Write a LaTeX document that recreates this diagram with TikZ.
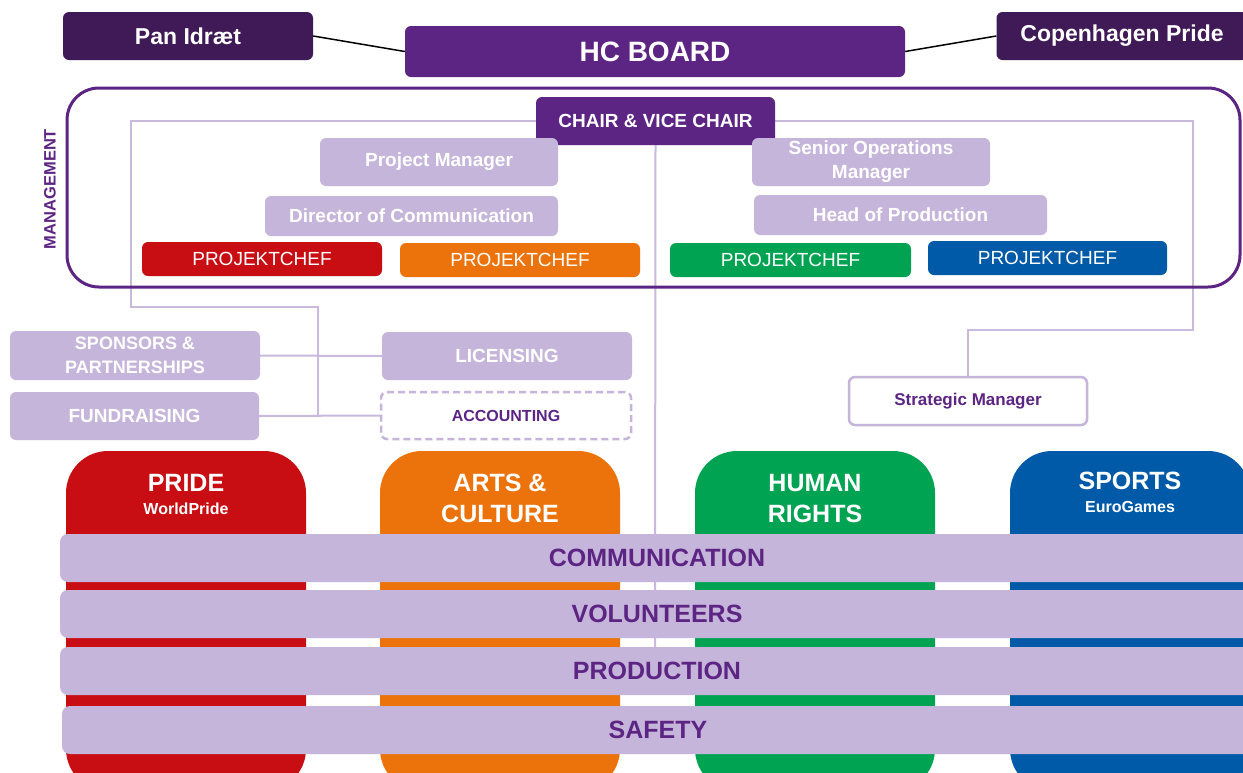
\documentclass[tikz,border=0pt]{standalone}
\usepackage{fontspec}
\setmainfont{Liberation Sans}
\usetikzlibrary{backgrounds}
\definecolor{dpurple}{HTML}{3F1A56}
\definecolor{mpurple}{HTML}{5C2483}
\definecolor{lpurple}{HTML}{C6B5DA}
\definecolor{cpurple}{HTML}{C9BADD}
\definecolor{cred}{HTML}{C80E13}
\definecolor{corange}{HTML}{EC730B}
\definecolor{cgreen}{HTML}{00A352}
\definecolor{cblue}{HTML}{005AA8}
\newcommand\fsz[2]{\fontsize{#1}{#2}\selectfont}
\begin{document}
\begin{tikzpicture}[x=1pt,y=-1pt,
  box/.style={rounded corners=6pt, inner sep=0pt, align=center, text=white},
  lbox/.style={box, fill=lpurple, font=\bfseries\fsz{19}{24}},
  pcbox/.style={box, minimum height=34pt, font=\fsz{19}{22}},
  colbox/.style={rounded corners=42pt, inner sep=0pt, minimum width=240pt, minimum height=340pt},
  coltitle/.style={text=white, align=center, inner sep=0pt, font=\bfseries\fsz{25}{31}},
  colsub/.style={text=white, inner sep=0pt, font=\bfseries\fsz{16}{19}},
  band/.style={fill=lpurple, rounded corners=8pt, inner sep=0pt, minimum height=48pt, text=mpurple, font=\bfseries\fsz{25}{30}},
  conn/.style={draw=cpurple, line width=2pt},
  blk/.style={draw=black, line width=1.5pt}]
\useasboundingbox (0,0) rectangle (1243,772);
\clip (0,0) rectangle (1243,772);

% top row
\node[box, fill=dpurple, minimum width=250pt, minimum height=48pt, font=\bfseries\fsz{23}{27}] (pan) at (188,36) {Pan Idræt};
\node[box, fill=mpurple, minimum width=500pt, minimum height=51pt, font=\bfseries\fsz{28}{32}] (hc) at (655,51.5) {HC BOARD};
\node[box, fill=dpurple, minimum width=251pt, minimum height=48pt, font=\bfseries\fsz{23}{27}] (cop) at (1122,36) {Copenhagen Pride};
\draw[blk] (pan.east) -- (hc.west);
\draw[blk] (cop.west) -- (hc.east);

% management frame
\draw[draw=mpurple, line width=3pt, rounded corners=32pt] (67,88) rectangle (1240,287);
\node[rotate=90, text=mpurple, inner sep=0pt, font=\bfseries\fsz{16.5}{19}] (mgmt) at (50,189) {MANAGEMENT};

\node[box, fill=mpurple, minimum width=239pt, minimum height=48pt, font=\bfseries\fsz{19}{24}] (chair) at (655.5,121) {CHAIR \& VICE CHAIR};
\node[lbox, minimum width=238pt, minimum height=48pt] (pm) at (439,162) {Project Manager};
\node[lbox, minimum width=293pt, minimum height=40pt] (doc) at (411.5,216) {Director of Communication};
\node[lbox, minimum width=238pt, minimum height=48pt] (som) at (871,162) {Senior Operations\\Manager};
\node[lbox, minimum width=293pt, minimum height=40pt] (hop) at (900.5,215) {Head of Production};

\node[pcbox, fill=cred, minimum width=240pt] (pc1) at (262,259) {PROJEKTCHEF};
\node[pcbox, fill=corange, minimum width=240pt] (pc2) at (520,260) {PROJEKTCHEF};
\node[pcbox, fill=cgreen, minimum width=241pt] (pc3) at (790.5,260) {PROJEKTCHEF};
\node[pcbox, fill=cblue, minimum width=239pt] (pc4) at (1047.5,258) {PROJEKTCHEF};

% support boxes
\node[lbox, minimum width=250pt, minimum height=49pt, font=\bfseries\fsz{18}{24}] (spons) at (135,355.5) {SPONSORS \&\\PARTNERSHIPS};
\node[lbox, minimum width=249pt, minimum height=48pt] (fund) at (134.5,416) {FUNDRAISING};
\node[lbox, minimum width=250pt, minimum height=48pt] (lic) at (507,356) {LICENSING};
\node[box, fill=white, draw=lpurple, line width=2.5pt, dash pattern=on 7pt off 4pt, minimum width=250pt, minimum height=47pt, text=mpurple, font=\bfseries\fsz{16}{20}] (acc) at (506,415.5) {ACCOUNTING};
\node[box, fill=white, draw=lpurple, line width=2.5pt, minimum width=238pt, minimum height=48pt, text=mpurple, font=\bfseries\fsz{17}{20}] (strat) at (968,401) {Strategic Manager};

% columns
\node[colbox, fill=cred] (pride) at (186,621) {};
\node[colbox, fill=corange] (arts) at (500,621) {};
\node[colbox, fill=cgreen] (human) at (815,621) {};
\node[colbox, fill=cblue] (sports) at (1130,621) {};
\node[coltitle] (pridet) at (186,483) {PRIDE};
\node[colsub] (prides) at (186,509) {WorldPride};
\node[coltitle] (artst) at (500,498.5) {ARTS \&\\CULTURE};
\node[coltitle] (humant) at (815,498.5) {HUMAN\\RIGHTS};
\node[coltitle] (sportst) at (1130,481) {SPORTS};
\node[colsub] (sportss) at (1130,507) {EuroGames};

% bands
\node[band, minimum width=1194pt] (comm) at (657,558) {COMMUNICATION};
\node[band, minimum width=1194pt] (vol) at (657,614) {VOLUNTEERS};
\node[band, minimum width=1194pt] (prod) at (657,671) {PRODUCTION};
\node[band, minimum width=1192pt] (safe) at (658,730) {SAFETY};

% connectors
\coordinate (lj) at (318,415);
\coordinate (cbot) at (655,650);
\begin{scope}[on background layer]
\fill[white] (0,0) rectangle (1243,772);
\draw[conn] (chair.west) -- (131,121) -- (131,307) -- (318,307) -- (lj);
\draw[conn] (chair.east) -- (1193,121) -- (1193,330) -- (968,330) -- (strat.north);
\draw[conn] (spons.east) -- (lic.west);
\draw[conn] (fund.east) -- (acc.west);
\draw[conn] (chair.south) -- (cbot);
\end{scope}
\end{tikzpicture}
\end{document}
